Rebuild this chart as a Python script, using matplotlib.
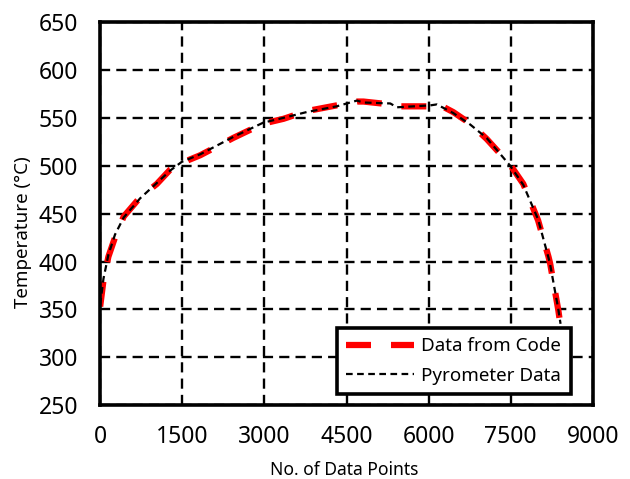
import numpy as np
import matplotlib.pyplot as plt

# values
code_x = [0, 60, 150, 270, 430, 730, 1035, 1280, 1490, 1830, 2130, 2430, 2980,
          3350, 3770, 4320, 4690, 4810, 5300, 5420, 6030, 6150, 6450, 6760,
          7060, 7490, 7730, 8000, 8190, 8220, 8370, 8400]
code_y = [353, 380, 405, 425, 447, 467, 481, 496, 503, 511, 520, 529, 544,
          549, 557, 563, 567, 567, 564, 562, 562, 565, 556, 544,
          528, 501, 481, 443, 405, 398, 349, 337]

pyro_x = [0, 60, 150, 270, 430, 730, 1035, 1280, 1490, 1830, 2130, 2430, 2980,
          3350, 3770, 4320, 4690, 4810, 5300, 5420, 6030, 6150, 6450, 6760,
          7060, 7490, 7730, 8000, 8190, 8220, 8370, 8410]
pyro_y = [355, 382, 407, 428, 446, 466, 482, 495, 504, 512, 521, 530, 545,
          550, 556, 562, 568, 566, 565, 561, 563, 564, 555, 543,
          529, 500, 480, 444, 404, 397, 350, 335]

xticks = [0, 1500, 3000, 4500, 6000, 7500, 9000]
yticks = [250, 300, 350, 400, 450, 500, 550, 600, 650]

plt.rcParams['font.family'] = ['Noto Sans', 'DejaVu Sans']

fig = plt.figure(figsize=(6.3, 4.79), dpi=100)
ax = fig.add_axes([0.159, 0.154, 0.782, 0.8])

ax.plot(code_x, code_y, color='red', lw=4.5, dashes=(4, 3.2), label='Data from Code')
ax.plot(pyro_x, pyro_y, color='black', lw=1.6, dashes=(3, 2), label='Pyrometer Data')

ax.set_xlim(0, 9000)
ax.set_ylim(250, 650)
ax.set_xticks(xticks)
ax.set_yticks(yticks)
ax.grid(True, color='black', lw=1.7, dashes=(4.3, 2.6))
ax.set_axisbelow(True)
for s in ax.spines.values():
    s.set_linewidth(2.6)
ax.tick_params(axis='y', direction='in', length=4, width=1.2, labelsize=16.5, pad=16)
ax.tick_params(axis='x', direction='in', length=4, width=1.2, labelsize=16.5, pad=14)

ax.set_xlabel('No. of Data Points', fontsize=12.6)
ax.set_ylabel('Temperature (°C)', fontsize=13.5)
ax.xaxis.set_label_coords(0.495, -0.146)
ax.yaxis.set_label_coords(-0.138, 0.452)

leg = ax.legend(loc='lower right', bbox_to_anchor=(0.955, 0.029), borderaxespad=0,
                fontsize=13.5, fancybox=False, framealpha=1, handlelength=3.6,
                handletextpad=0.4, labelspacing=0.6, borderpad=0.5)
leg.get_frame().set_edgecolor('black')
leg.get_frame().set_linewidth(2.6)

fig.savefig('out.png', dpi=100)
